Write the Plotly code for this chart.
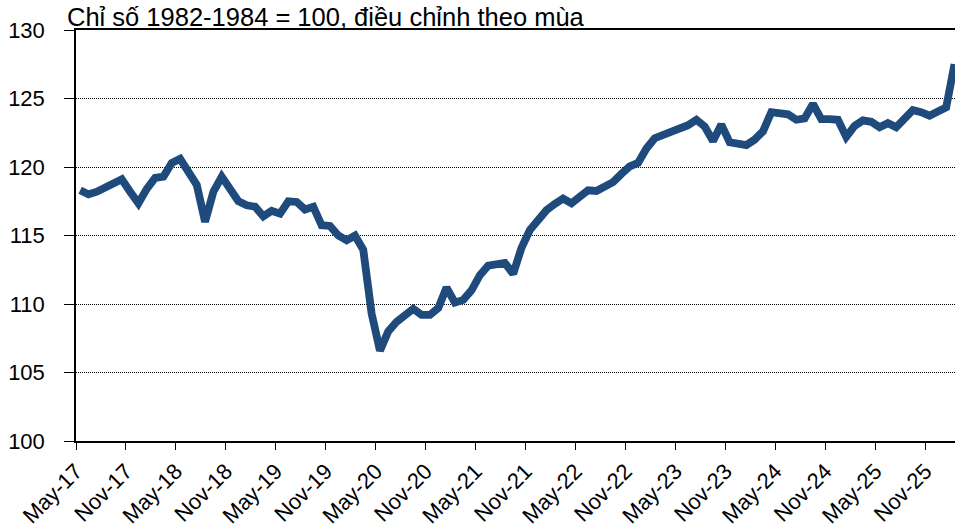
import numpy as np
import plotly.graph_objects as go

# Monthly values, May-2017 .. Feb-2026 (index 1982-1984 = 100, SA)
months = [f"{m}-{y}" for y in range(17, 27) for m in
          ["Jan", "Feb", "Mar", "Apr", "May", "Jun", "Jul", "Aug", "Sep", "Oct", "Nov", "Dec"]][4:4 + 106]
values = [
    118.3, 118.0, 118.2, 118.5, 118.8, 119.1, 118.2, 117.35, 118.4, 119.2,
    119.3, 120.3, 120.6, 119.6, 118.7, 116.0, 118.2, 119.3, 118.3, 117.5,
    117.2, 117.1, 116.4, 116.8, 116.6, 117.5, 117.45, 116.9, 117.1, 115.75,
    115.7, 115.0, 114.65, 115.0, 113.95, 109.3, 106.6, 108.0, 108.7, 109.1,
    109.65, 109.2, 109.2, 109.7, 111.2, 110.1, 110.3, 111.0, 112.1, 112.8,
    112.9, 113.0, 112.2, 114.1, 115.4, 116.2, 116.85, 117.3, 117.7, 117.35,
    117.8, 118.3, 118.25, 118.5, 118.9, 119.5, 120.05, 120.3, 121.35, 122.1,
    122.35, 122.5, 122.9, 123.05, 123.45, 122.95, 121.9, 123.1, 121.8, 121.7,
    121.6, 122.0, 122.6, 124.0, 123.9, 123.85, 123.45, 123.55, 124.6, 123.5,
    123.5, 123.45, 122.2, 123.0, 123.4, 123.3, 122.9, 123.2, 122.9, 123.55,
    124.15, 124.0, 123.75, 124.05, 124.35, 127.5,
]
tick_labels = ["May-17", "Nov-17", "May-18", "Nov-18", "May-19", "Nov-19",
               "May-20", "Nov-20", "May-21", "Nov-21", "May-22", "Nov-22",
               "May-23", "Nov-23", "May-24", "Nov-24", "May-25", "Nov-25"]
y_ticks = [100, 105, 110, 115, 120, 125, 130]
title_text = "Chỉ số 1982-1984 = 100, điều chỉnh theo mùa"

idx = np.arange(len(values))
tick_pos = [-0.5 + 6 * k for k in range(len(tick_labels))]

FONT = "Liberation Sans, Arial, sans-serif"

fig = go.Figure()
fig.add_trace(go.Scatter(
    x=idx, y=values, mode="lines",
    line=dict(color="#1F4A7C", width=7.8),
    hovertext=months, hoverinfo="text+y",
))

fig.update_layout(
    width=955, height=529,
    margin=dict(l=76, r=0, t=30, b=88, autoexpand=False),
    paper_bgcolor="white", plot_bgcolor="white",
    showlegend=False,
    font=dict(family=FONT, size=22, color="black"),
)
fig.update_xaxes(
    range=[-0.5, 105.06], automargin=False,
    tickmode="array", tickvals=tick_pos, ticktext=tick_labels,
    tickangle=-45,
    showgrid=False, zeroline=False,
    showline=True, linecolor="black", linewidth=1.5, mirror=True,
    ticks="outside", ticklen=7, tickcolor="black", tickwidth=1,
    tickfont=dict(family=FONT, size=22, color="black"),
)
fig.update_yaxes(
    range=[100, 130], automargin=False,
    tickmode="array", tickvals=y_ticks,
    showgrid=True, gridcolor="black", gridwidth=1, griddash="1px,1px",
    zeroline=False,
    showline=True, linecolor="black", linewidth=1.5,
    ticks="outside", ticklen=10, tickcolor="black", tickwidth=1,
    ticklabelstandoff=15,
    tickfont=dict(family=FONT, size=22, color="black"),
)
fig.add_annotation(
    text=title_text, xref="paper", yref="paper",
    x=-0.0125, y=1, xanchor="left", yanchor="bottom",
    showarrow=False, yshift=-3,
    font=dict(family=FONT, size=25.5, color="black"),
)

fig.write_html(
    "out.html",
    config={"displayModeBar": False},
    post_script="document.body.style.margin='0';document.body.style.overflow='hidden';",
)
